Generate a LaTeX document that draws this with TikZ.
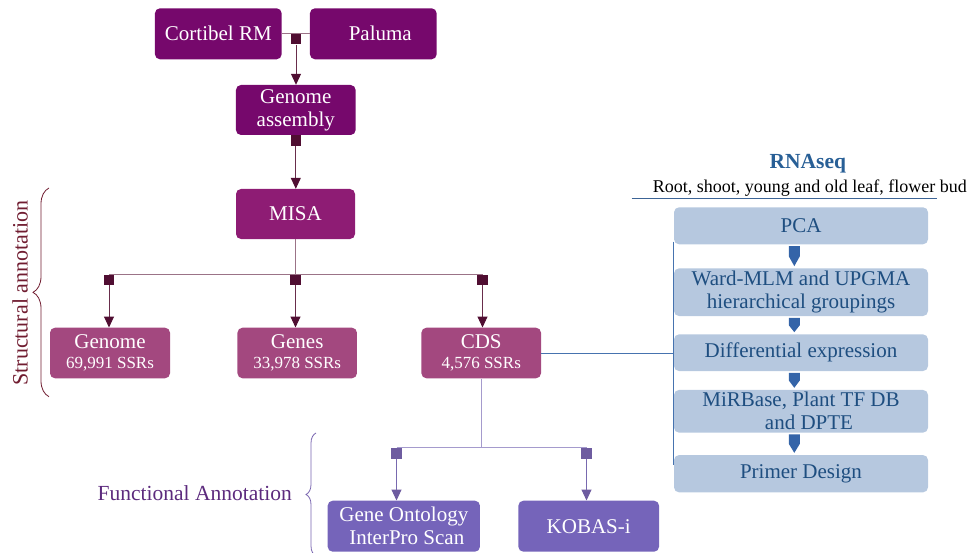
\documentclass[tikz,border=0pt]{standalone}
\usepackage{fontspec}
\setmainfont{Liberation Serif}
\usetikzlibrary{arrows.meta,decorations.pathreplacing,calc}
\definecolor{topc}{RGB}{118,8,108}
\definecolor{misac}{RGB}{142,28,116}
\definecolor{midc}{RGB}{163,72,127}
\definecolor{sqdark}{RGB}{80,14,50}
\definecolor{busc}{RGB}{155,115,135}
\definecolor{shaftc}{RGB}{105,45,75}
\definecolor{funcbox}{RGB}{117,100,186}
\definecolor{sqfc}{RGB}{110,92,160}
\definecolor{flinec}{RGB}{165,155,205}
\definecolor{fshaft}{RGB}{120,105,175}
\definecolor{rnabox}{RGB}{182,200,223}
\definecolor{rnatext}{RGB}{30,78,128}
\definecolor{rnahead}{RGB}{40,95,150}
\definecolor{bluelinec}{RGB}{70,115,175}
\definecolor{ulinec}{RGB}{60,100,150}
\definecolor{bluearrow}{RGB}{52,100,168}
\definecolor{structc}{RGB}{112,28,48}
\definecolor{funcc}{RGB}{92,42,125}
\definecolor{fbracec}{RGB}{120,100,175}
\newcommand{\bluedown}[2]{%
  \fill[bluearrow] let \p1=(#1.south), \p2=(#2.north) in
    (788.8pt,\y1-1.5pt) -- (799.8pt,\y1-1.5pt) -- (799.8pt,{0.5*\y1+0.5*\y2}) --
    (794.3pt,\y2+2pt) -- (788.8pt,{0.5*\y1+0.5*\y2}) -- cycle;}
\begin{document}
\begin{tikzpicture}[x=1pt,y=-1pt,
  box/.style={rounded corners=5pt, inner sep=0pt, align=center, text=white,
    font=\fontsize{21}{23}\selectfont},
  topbox/.style={box, fill=topc},
  misabox/.style={box, fill=misac},
  midbox/.style={box, fill=midc, minimum width=120pt, minimum height=50.6pt},
  funbox/.style={box, fill=funcbox, minimum height=51pt},
  rbox/.style={box, fill=rnabox, text=rnatext, minimum width=254pt},
  sqm/.style={fill=sqdark, minimum size=10.5pt, inner sep=0pt, anchor=north},
  sqf/.style={fill=sqfc, minimum size=11pt, inner sep=0pt, anchor=north},
  bus/.style={draw=busc, line width=1pt},
  arr/.style={draw=shaftc, line width=1pt, -{Triangle[width=10pt,length=11pt,color=sqdark]}},
  fbus/.style={draw=flinec, line width=1pt},
  farr/.style={draw=fshaft, line width=1pt, -{Triangle[width=10pt,length=11pt,color=sqfc]}},
  bline/.style={draw=bluelinec, line width=1pt},
  small/.style={font=\fontsize{17}{19}\selectfont}
]
\useasboundingbox (0,0) rectangle (973,553);

% top row
\node[topbox, minimum width=126.7pt, minimum height=51pt] (cort) at (218.3,33.8) {Cortibel RM};
\node[topbox, minimum width=126.7pt, minimum height=51pt] (pal) at (373.3,33.8) {\hspace*{14pt}Paluma};
\draw[bus] (cort.east) -- (pal.west);
\node[sqm] (s0) at (296,33.8) {};
\node[topbox, minimum width=119.7pt, minimum height=50pt] (ga) at (295.8,110) {Genome\\assembly};
\draw[arr] (s0.south) -- (s0.south |- ga.north);
\node[sqm] (s1) at (ga.south) {};
\node[misabox, minimum width=119pt, minimum height=50pt] (misa) at (295.5,214) {MISA};
\draw[arr] (s1.south) -- (s1.south |- misa.north);

% MISA bus
\coordinate (mb) at (295.5,274.5);
\draw[bus] (misa.south) -- (mb);
\node[sqm] (s2) at (109,274.5) {};
\node[sqm] (s3) at (295.5,274.5) {};
\node[sqm] (s4) at (482.5,274.5) {};
\draw[bus] (s2.north) -- (s4.north);

\node[midbox] (genome) at (110,353) {Genome\\[-3pt]{\fontsize{17}{19}\selectfont 69,991 SSRs}};
\node[midbox, minimum width=119.5pt] (genes) at (297.2,353) {Genes\\[-3pt]{\fontsize{17}{19}\selectfont 33,978 SSRs}};
\node[midbox, minimum width=119.6pt] (cds) at (481.2,353) {CDS\\[-3pt]{\fontsize{17}{19}\selectfont 4,576 SSRs}};
\draw[arr] (s2.south) -- (s2.south |- genome.north);
\draw[arr] (s3.south) -- (s3.south |- genes.north);
\draw[arr] (s4.south) -- (s4.south |- cds.north);

% structural annotation
\draw[structc, line width=0.8pt, decorate, decoration={brace, amplitude=16pt}] (49,396.7) -- (49,188);
\node[rotate=90, text=structc, font=\fontsize{22}{24}\selectfont] (stx) at (20,293) {Structural annotation};

% functional annotation
\coordinate (fb) at (482.7,447.7);
\draw[fbus] (cds.south) -- (cds.south |- fb);
\node[sqf] (f1) at (396.5,447.7) {};
\node[sqf] (f2) at (586.5,447.7) {};
\draw[fbus] (f1.north) -- (f2.north);
\node[funbox, minimum width=152.3pt] (go) at (403.8,526.2) {Gene Ontology\\\hspace*{6pt}InterPro Scan};
\node[funbox, minimum width=140.7pt] (kobas) at (588.7,526.2) {KOBAS-i};
\draw[farr] (f1.south) -- (f1.south |- go.north);
\draw[farr] (f2.south) -- (f2.south |- kobas.north);
\draw[fbracec, line width=0.8pt, decorate, decoration={brace, amplitude=10pt}] (316,556) -- (316,433);
\node[anchor=base, text=funcc, font=\fontsize{21.5}{24}\selectfont] (ftx) at (194.7,500) {Functional Annotation};

% RNAseq
\node[anchor=base, text=rnahead, font=\bfseries\fontsize{21.5}{24}\selectfont] (rnat) at (807.8,168.3) {RNAseq};
\node[anchor=base, font=\fontsize{18}{20}\selectfont] (rnas) at (809.8,192.7) {Root, shoot, young and old leaf, flower bud};
\coordinate (ul1) at (631.7,198.3);
\coordinate (ul2) at (936.7,198.3);
\draw[draw=ulinec, line width=1pt] (ul1) -- (ul2);

\node[rbox, minimum height=37pt] (pca) at (801,225.8) {PCA};
\node[rbox, minimum height=47.7pt] (ward) at (801,292.2) {Ward-MLM and UPGMA\\hierarchical groupings};
\node[rbox, minimum height=36.7pt] (diff) at (801,352.7) {Differential expression};
\node[rbox, minimum height=42.7pt] (mir) at (801,411.3) {MiRBase, Plant TF DB\\\hspace*{16pt}and DPTE};
\node[rbox, minimum height=37.3pt] (primer) at (801,473.7) {Primer Design};

\coordinate (vtop) at (673.3,241.7);
\coordinate (vbot) at (673.3,465);
\draw[bline] (vtop) -- (vbot);
\draw[bline] (cds.east) -- (cds.east -| vtop);

\bluedown{pca}{ward}
\bluedown{ward}{diff}
\bluedown{diff}{mir}
\bluedown{mir}{primer}
\end{tikzpicture}
\end{document}
